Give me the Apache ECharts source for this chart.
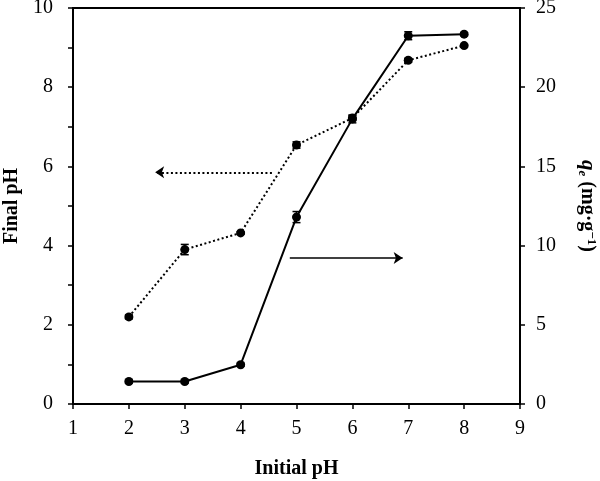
<!DOCTYPE html>
<html><head><meta charset="utf-8">
<script src="https://cdn.jsdelivr.net/npm/echarts@6/dist/echarts.min.js"></script>
<style>html,body{margin:0;padding:0;background:#fff}#c{width:600px;height:481px}</style>
</head><body><div id="c"></div>
<script>
const initialPH = [2, 3, 4, 5, 6, 7, 8];
const finalPH = [2.2, 3.9, 4.32, 6.54, 7.22, 8.68, 9.05];
const finalPHErr = [0.05, 0.13, 0.03, 0.08, 0.06, 0.05, 0.03];
const qe = [1.42, 1.42, 2.48, 11.8, 18.0, 23.25, 23.35];
const qeErr = [0.1, 0.1, 0.1, 0.35, 0.25, 0.25, 0.1];
const xTicks = [1, 2, 3, 4, 5, 6, 7, 8, 9];
const leftTicks = [0, 2, 4, 6, 8, 10];
const rightTicks = [0, 5, 10, 15, 20, 25];

const FONT = 'Liberation Serif';
const FS = 20;
const chart = echarts.init(document.getElementById('c'));

function errItem(params, api) {
  const x = api.value(0), lo = api.value(1), hi = api.value(2);
  const p1 = api.coord([x, lo]), p2 = api.coord([x, hi]);
  const w = 4;
  const st = {stroke: '#000', lineWidth: 1.5};
  return {type: 'group', children: [
    {type: 'line', shape: {x1: p1[0], y1: p1[1], x2: p2[0], y2: p2[1]}, style: st},
    {type: 'line', shape: {x1: p1[0]-w, y1: p1[1], x2: p1[0]+w, y2: p1[1]}, style: st},
    {type: 'line', shape: {x1: p2[0]-w, y1: p2[1], x2: p2[0]+w, y2: p2[1]}, style: st}
  ]};
}

const axisCommon = {
  axisLine: {show: true, lineStyle: {color: '#000', width: 2}},
  axisTick: {show: true, inside: false, length: 5, lineStyle: {color: '#000', width: 1.5}},
  splitLine: {show: false}
};

chart.setOption({
  animation: false,
  backgroundColor: '#fff',
  grid: {left: 73, right: 80, top: 8, bottom: 77, containLabel: false, outerBoundsMode: 'none',
    show: true, borderColor: '#000', borderWidth: 2, backgroundColor: 'transparent'},
  xAxis: Object.assign({}, axisCommon, {
    type: 'value', min: xTicks[0], max: xTicks[xTicks.length-1], interval: 1,
    name: 'Initial pH', nameLocation: 'middle', nameGap: 55,
    nameTextStyle: {fontFamily: FONT, fontSize: FS, fontWeight: 'bold', color: '#000'},
    axisLabel: {color: '#000', fontFamily: FONT, fontSize: FS, margin: 15}
  }),
  yAxis: [
    Object.assign({}, axisCommon, {
      type: 'value', min: leftTicks[0], max: leftTicks[leftTicks.length-1], interval: 1, position: 'left',
      name: 'Final pH', nameLocation: 'middle', nameGap: 51, nameRotate: 90,
      nameTextStyle: {fontFamily: FONT, fontSize: FS, fontWeight: 'bold', color: '#000'},
      axisLabel: {color: '#000', fontFamily: FONT, fontSize: FS, margin: 20,
        formatter: v => leftTicks.indexOf(v) >= 0 ? String(v) : ''}
    }),
    Object.assign({}, axisCommon, {
      type: 'value', min: rightTicks[0], max: rightTicks[rightTicks.length-1], interval: 5, position: 'right',
      name: '{q|q}{sub|e}{n| (mg·g}{sup|−1}{n|)}', nameLocation: 'middle', nameGap: 56, nameRotate: -90,
      nameTextStyle: {fontFamily: FONT, fontSize: FS, fontWeight: 'bold', color: '#000',
        rich: {
          q: {fontFamily: FONT, fontSize: 21, fontWeight: 'bold', fontStyle: 'italic', color: '#000'},
          sub: {fontFamily: FONT, fontSize: 13, fontWeight: 'bold', fontStyle: 'italic', color: '#000', verticalAlign: 'bottom', padding: [7,0,0,0]},
          n: {fontFamily: FONT, fontSize: FS, fontWeight: 'bold', color: '#000'},
          sup: {fontFamily: FONT, fontSize: 13, fontWeight: 'bold', color: '#000', verticalAlign: 'top', padding: [0,0,9,0]}
        }},
      axisLabel: {color: '#000', fontFamily: FONT, fontSize: FS, margin: 16}
    })
  ],
  series: [
    {
      type: 'line', yAxisIndex: 0, name: 'Final pH',
      data: initialPH.map((x, i) => [x, finalPH[i]]),
      symbol: 'circle', symbolSize: 9,
      itemStyle: {color: '#000'},
      lineStyle: {color: '#000', width: 2, type: [2, 2.5]},
      z: 3,
      markLine: {
        silent: true, symbol: ['none', 'arrow'], symbolSize: [9, 9],
        label: {show: false},
        lineStyle: {color: '#000', width: 2, type: [2, 2.5]},
        data: [[{coord: [4.56, 5.85]}, {coord: [2.47, 5.85]}]]
      }
    },
    {
      type: 'line', yAxisIndex: 1, name: 'qe',
      data: initialPH.map((x, i) => [x, qe[i]]),
      symbol: 'circle', symbolSize: 9,
      itemStyle: {color: '#000'},
      lineStyle: {color: '#000', width: 2, type: 'solid'},
      z: 3,
      markLine: {
        silent: true, symbol: ['none', 'arrow'], symbolSize: [9, 9],
        label: {show: false},
        lineStyle: {color: '#000', width: 1.5, type: 'solid'},
        data: [[{coord: [4.88, 9.22]}, {coord: [6.9, 9.22]}]]
      }
    },
    {
      type: 'custom', yAxisIndex: 0, renderItem: errItem, z: 4,
      data: initialPH.map((x, i) => [x, finalPH[i] - finalPHErr[i], finalPH[i] + finalPHErr[i]])
    },
    {
      type: 'custom', yAxisIndex: 1, renderItem: errItem, z: 4,
      data: initialPH.map((x, i) => [x, qe[i] - qeErr[i], qe[i] + qeErr[i]])
    }
  ]
});
</script></body></html>
